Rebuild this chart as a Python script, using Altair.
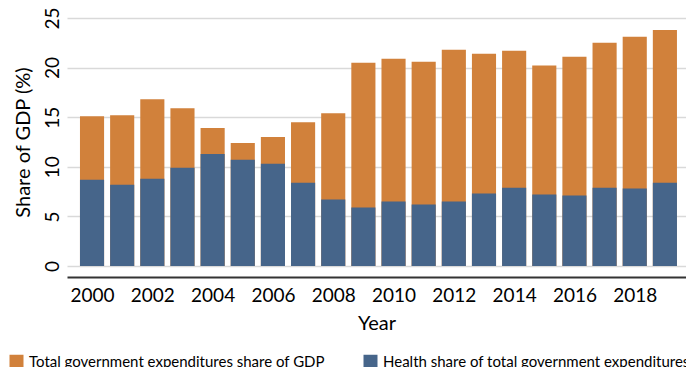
import altair as alt
import pandas as pd

years = list(range(2000, 2020))
total_gov = [15.1, 15.2, 16.8, 15.9, 13.9, 12.4, 13.0, 14.5, 15.4, 20.5,
             20.9, 20.6, 21.8, 21.4, 21.7, 20.2, 21.1, 22.5, 23.1, 23.8]
health = [8.7, 8.2, 8.8, 9.9, 11.3, 10.7, 10.3, 8.4, 6.7, 5.9,
          6.5, 6.2, 6.5, 7.3, 7.9, 7.2, 7.1, 7.9, 7.8, 8.4]
series = ["Total government expenditures share of GDP",
          "Health share of total government expenditures"]
colors = ["#D1813B", "#46658A"]
x_ticks = list(range(2000, 2019, 2))
y_ticks = [0, 5, 10, 15, 20, 25]

rows = []
for i, (s, vals) in enumerate(zip(series, [total_gov, health])):
    for y, v in zip(years, vals):
        rows.append({"year": y, "value": v, "series": s, "idx": i})
df = pd.DataFrame(rows)

chart = (
    alt.Chart(df)
    .transform_calculate(x0="datum.year - 0.4", x1="datum.year + 0.4", base="0")
    .mark_bar()
    .encode(
        x=alt.X(
            "x0:Q",
            scale=alt.Scale(domain=[1999.17, 2019.7], nice=False, zero=False),
            axis=alt.Axis(
                values=x_ticks, format="d", title="Year", grid=False,
                ticks=False, tickSize=0, domainColor="#333333", domainWidth=2,
                offset=11, labelFontSize=19, labelPadding=9, labelFlush=False,
                labelColor="#000000", titleColor="#000000",
                titleFontSize=20, titleFontWeight="normal", titlePadding=8,
            ),
        ),
        x2="x1:Q",
        y=alt.Y(
            "value:Q", stack=None,
            scale=alt.Scale(domain=[0, 25], nice=False),
            axis=alt.Axis(
                values=y_ticks, title="Share of GDP (%)", grid=True,
                gridColor="#d9d9d9", gridWidth=1.5, domain=False, ticks=False,
                tickSize=0, labelAngle=270, labelAlign="center",
                labelBaseline="alphabetic", labelPadding=9, labelFontSize=19,
                labelColor="#000000", titleColor="#000000",
                titleFontSize=20, titleFontWeight="normal", titlePadding=10,
            ),
        ),
        y2="base:Q",
        color=alt.Color(
            "series:N",
            scale=alt.Scale(domain=series, range=colors),
            legend=alt.Legend(
                orient="none", legendX=-58, legendY=336, direction="horizontal",
                title=None, symbolType="square", symbolSize=196,
                symbolStrokeWidth=0, labelFontSize=15, labelOffset=5,
                labelLimit=1000, columnPadding=38, padding=0,
                labelColor="#000000",
            ),
        ),
        order=alt.Order("idx:Q"),
    )
    .properties(
        width=619, height=248,
        autosize=alt.AutoSizeParams(type="none"),
        padding={"left": 67, "top": 18, "right": 0, "bottom": 101},
    )
    .configure(font="Lato")
    .configure_view(stroke=None)
)

chart.save("out.html", embed_options={"renderer": "svg", "actions": False})
